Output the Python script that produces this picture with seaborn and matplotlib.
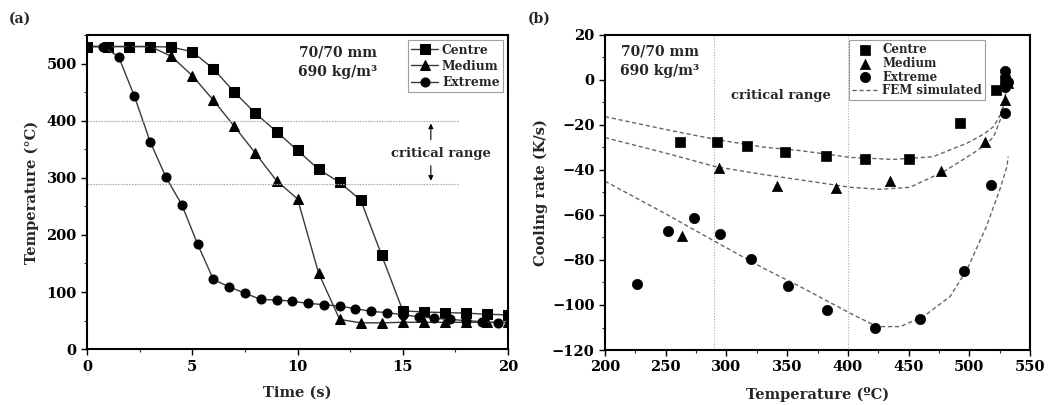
import numpy as np
import pandas as pd
import matplotlib
matplotlib.use("Agg")
import matplotlib.pyplot as plt
from matplotlib.ticker import MultipleLocator
import seaborn as sns

# ---------------- data: panel (a) ----------------
centre_t = [0, 1, 2, 3, 4, 5, 6, 7, 8, 9, 10, 11, 12, 13, 14, 15, 16, 17, 18, 19, 20]
centre_T = [530, 530, 530, 530, 529, 521, 491, 450, 413, 381, 348, 315, 292, 261, 164, 67, 65, 64, 63, 61, 60]

medium_t = [0, 1, 2, 3, 4, 5, 6, 7, 8, 9, 10, 11, 12, 13, 14, 15, 16, 17, 18, 19, 20]
medium_T = [530, 530, 530, 530, 513, 479, 436, 390, 343, 295, 263, 133, 52, 46, 46, 47, 47, 47, 47, 47, 47]

extreme_t = [0, 0.75, 1.5, 2.25, 3.0, 3.75, 4.5, 5.25, 6.0, 6.75, 7.5, 8.25, 9.0, 9.75,
             10.5, 11.25, 12.0, 12.75, 13.5, 14.25, 15.0, 15.75, 16.5, 17.25, 18.0, 18.75, 19.5]
extreme_T = [530, 530, 512, 443, 363, 301, 253, 184, 122, 109, 98, 87, 86, 84,
             80, 78, 75, 71, 66, 64, 60, 57, 54, 52, 50, 48, 46]

# ---------------- data: panel (b) ----------------
cen_b_T = [262, 292, 317, 348, 382, 414, 450, 492, 522, 529]
cen_b_r = [-27.4, -27.4, -29.2, -32.0, -33.8, -35.3, -35.1, -19.1, -4.4, 0.0]

med_b_T = [263, 294, 342, 390, 435, 477, 513, 529, 532]
med_b_r = [-69.3, -39.3, -47.1, -47.9, -44.9, -40.3, -27.4, -8.9, -1.5]

ext_b_T = [226, 252, 273, 295, 320, 351, 383, 422, 459, 496, 518, 529, 529, 529, 532]
ext_b_r = [-90.7, -67.1, -61.5, -68.6, -79.6, -91.4, -102.2, -110.1, -106.2, -84.7, -46.8, -14.8, 4.1, -3.3, -0.7]

# FEM simulated curves
fem_c_T = [200, 250, 291, 330, 361, 402, 437, 470, 498, 512, 520, 526, 530]
fem_c_r = [-16.3, -22.0, -26.4, -29.8, -31.4, -34.4, -35.3, -34.1, -28.1, -24.0, -20.7, -15.0, -6.0]

fem_m_T = [200, 250, 291, 330, 361, 402, 427, 451, 479, 503, 514, 520, 526, 530]
fem_m_r = [-25.6, -32.5, -38.5, -42.0, -44.4, -47.7, -48.6, -47.7, -40.7, -32.6, -28.5, -25.2, -17.0, -6.0]

fem_e_T = [200, 250, 291, 330, 361, 402, 424, 443, 462, 484, 498, 514, 525, 531, 532]
fem_e_r = [-45.0, -59.5, -71.9, -83.5, -91.9, -103.7, -109.6, -109.6, -105.2, -96.3, -84.4, -65.2, -48.9, -38.5, -34.0]

# ---------------- style ----------------
sns.set_style("ticks")
plt.rcParams['font.family'] = ['DejaVu Serif']
plt.rcParams['font.weight'] = 'bold'
plt.rcParams['axes.labelweight'] = 'bold'
plt.rcParams['axes.linewidth'] = 1.5
plt.rcParams['xtick.direction'] = 'out'
plt.rcParams['ytick.direction'] = 'out'

fig = plt.figure(figsize=(10.5, 4.05), dpi=100)
axa = fig.add_axes([0.0829, 0.138, 0.401, 0.7753])
axb = fig.add_axes([0.5762, 0.1358, 0.4048, 0.7778])

line_col = '#3a3a3a'
ms = 6.5

# ---------------- panel (a) ----------------
series_a = [(centre_t, centre_T, 's', 'Centre'),
            (medium_t, medium_T, '^', 'Medium'),
            (extreme_t, extreme_T, 'o', 'Extreme')]
for t, T, mk, lab in series_a:
    sns.lineplot(x=t, y=T, ax=axa, color=line_col, lw=1.0, marker=mk, markersize=ms,
                 markerfacecolor='black', markeredgecolor='black', label=lab)

for yv in (400, 290):
    axa.plot([0, 17.6], [yv, yv], color='#aaaaaa', lw=0.8, ls=(0, (1.5, 1)))
axa.annotate('', xy=(16.33, 400), xytext=(16.33, 362),
             arrowprops=dict(arrowstyle='-|>', color='black', lw=0.8, mutation_scale=7))
axa.annotate('', xy=(16.33, 290), xytext=(16.33, 326),
             arrowprops=dict(arrowstyle='-|>', color='black', lw=0.8, mutation_scale=7))
axa.text(16.8, 343, 'critical range', ha='center', va='center', fontsize=9.5,
         fontweight='bold')
axa.text(11.9, 520, '70/70 mm', ha='center', va='center', fontsize=10, fontweight='bold')
axa.text(11.9, 486, '690 kg/m³', ha='center', va='center', fontsize=10, fontweight='bold')

axa.set_xlim(0, 20)
axa.set_ylim(0, 550)
axa.xaxis.set_major_locator(MultipleLocator(5))
axa.xaxis.set_minor_locator(MultipleLocator(2.5))
axa.yaxis.set_major_locator(MultipleLocator(100))
axa.yaxis.set_minor_locator(MultipleLocator(50))
axa.set_xlabel('Time (s)', fontsize=10.5, fontweight='bold', labelpad=9)
axa.set_ylabel('Temperature (°C)', fontsize=10.5, fontweight='bold', labelpad=5)
leg = axa.legend(loc='upper right', fontsize=8.8, frameon=True, fancybox=False,
                 edgecolor='#888888', handlelength=2.2, borderpad=0.3,
                 labelspacing=0.25, handletextpad=0.3, borderaxespad=0.4)
leg.get_frame().set_linewidth(0.8)

# ---------------- panel (b) ----------------
for yv in (290, 400):
    axb.axvline(yv, color='#aaaaaa', lw=0.8, ls=(0, (1, 1.5)))

fem = [(fem_c_T, fem_c_r, 'FEM simulated'), (fem_m_T, fem_m_r, None), (fem_e_T, fem_e_r, None)]
for T, r, lab in fem:
    sns.lineplot(x=T, y=r, ax=axb, color='#666666', lw=1.0, ls=(0, (3, 2)),
                 sort=False, label=lab, legend=lab is not None)

series_b = [(cen_b_T, cen_b_r, 's', 'Centre'),
            (med_b_T, med_b_r, '^', 'Medium'),
            (ext_b_T, ext_b_r, 'o', 'Extreme')]
for T, r, mk, lab in series_b:
    sns.scatterplot(x=T, y=r, ax=axb, color='black', marker=mk, s=55,
                    edgecolor='black', linewidth=0.5, label=lab, zorder=3)

axb.text(245, 12.5, '70/70 mm', ha='center', va='center', fontsize=10, fontweight='bold')
axb.text(245, 4, '690 kg/m³', ha='center', va='center', fontsize=10, fontweight='bold')
axb.text(345, -7, 'critical range', ha='center', va='center', fontsize=9.5, fontweight='bold')

axb.set_xlim(200, 550)
axb.set_ylim(-120, 20)
axb.xaxis.set_major_locator(MultipleLocator(50))
axb.xaxis.set_minor_locator(MultipleLocator(25))
axb.yaxis.set_major_locator(MultipleLocator(20))
axb.yaxis.set_minor_locator(MultipleLocator(10))
axb.set_xlabel('Temperature (ºC)', fontsize=10.5, fontweight='bold', labelpad=9)
axb.set_ylabel('Cooling rate (K/s)', fontsize=10.5, fontweight='bold', labelpad=3)

h, l = axb.get_legend_handles_labels()
order = [l.index(x) for x in ['Centre', 'Medium', 'Extreme', 'FEM simulated']]
legb = axb.legend([h[i] for i in order], [l[i] for i in order], loc='upper right',
                  bbox_to_anchor=(0.905, 1.0), fontsize=8.5, frameon=True, fancybox=False,
                  edgecolor='#888888', handlelength=2.2, borderpad=0.25,
                  labelspacing=0.08, handletextpad=0.4, borderaxespad=0.4)
legb.get_frame().set_linewidth(0.8)

for ax in (axa, axb):
    for s in ax.spines.values():
        s.set_visible(True)
        s.set_linewidth(1.5)
        s.set_color('black')
    ax.tick_params(which='major', length=4, width=1.0, labelsize=10.5, colors='black')
    ax.tick_params(which='minor', length=2.5, width=0.8)
    for lbl in ax.get_xticklabels() + ax.get_yticklabels():
        lbl.set_fontweight('bold')

fig.text(0.008, 0.955, '(a)', fontsize=10, fontweight='bold', va='center')
fig.text(0.503, 0.955, '(b)', fontsize=10, fontweight='bold', va='center')

fig.savefig('out.png', dpi=100)
